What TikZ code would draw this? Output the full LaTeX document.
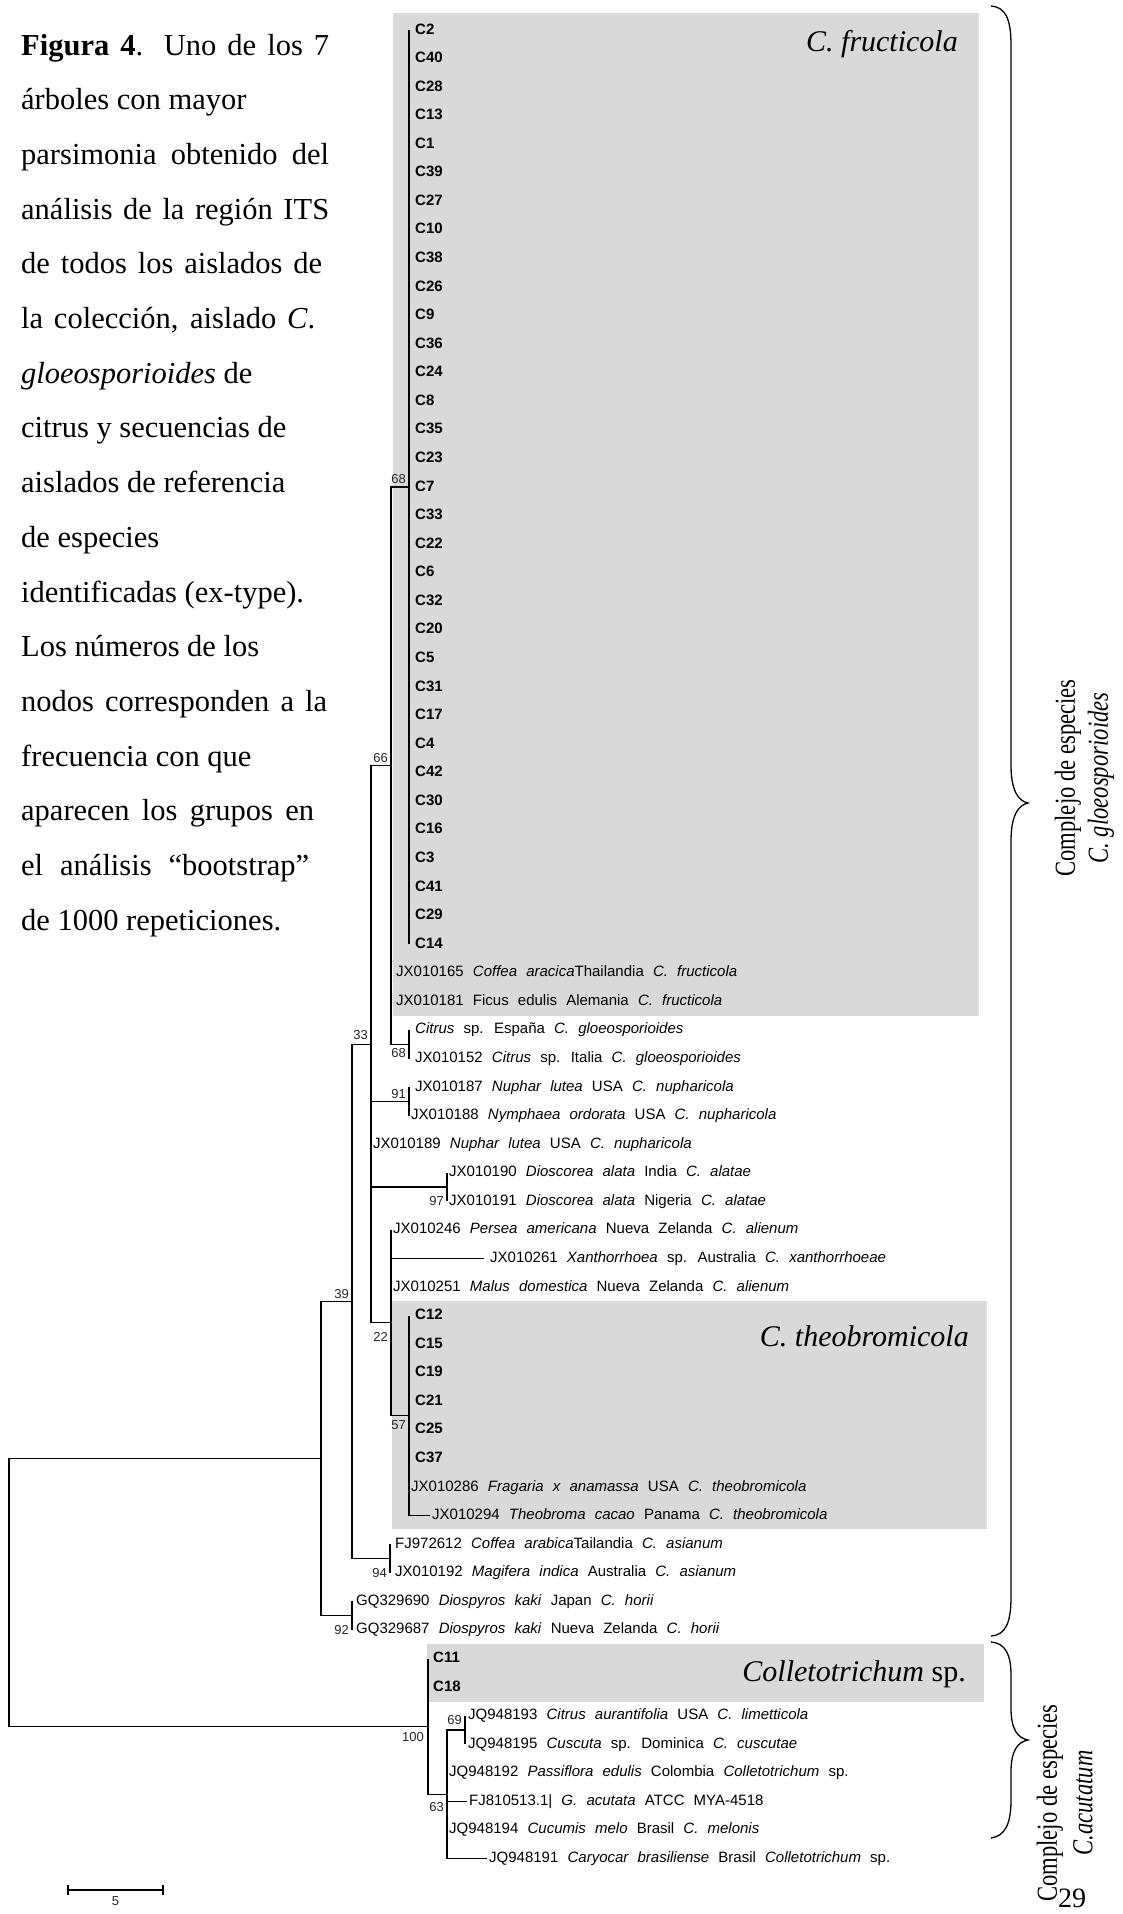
\documentclass[tikz,border=0pt]{standalone}
\usepackage{fontspec}
\setmainfont{Liberation Serif}
\newfontfamily\treefont{Liberation Sans}[WordSpace=2.2]
\definecolor{boxgray}{RGB}{217,217,217}
\begin{document}
\begin{tikzpicture}[x=1pt,y=-1pt,
  declare function={row(\k)=30+28.57*(\k-1);capy(\k)=55+54.7*(\k-1);},
  branch/.style={line width=1.3pt},
  cbranch/.style={line width=2.2pt},
  taxon/.style={anchor=west, inner sep=0pt, text height=11pt, text depth=3pt, font=\treefont\fontsize{15}{15}\selectfont},
  ctaxon/.style={taxon, font=\treefont\bfseries\fontsize{15}{15}\selectfont},
  boot/.style={inner sep=0pt, font=\treefont\fontsize{13}{13}\selectfont, text=black!85},
  cladename/.style={anchor=east, inner sep=0pt, font=\fontsize{30}{30}\selectfont},
  capline/.style={anchor=base west, inner sep=0pt, font=\fontsize{30.5}{30.5}\selectfont},
  rotlabel/.style={rotate=90, inner sep=0pt, font=\fontsize{29}{29}\selectfont},
  bracepath/.style={line width=1.3pt}]
\useasboundingbox (0,0) rectangle (1123,1914);
\fill[white] (0,0) rectangle (1123,1914);

% clade boxes
\fill[boxgray] (393,13) rectangle (979,1016);
\fill[boxgray] (392,1301) rectangle (987,1529);
\fill[boxgray] (427,1644) rectangle (984,1702);

\node[cladename] (nfru) at (958,44) {\itshape C. fructicola};
\node[cladename] (ntheo) at (969,1336) {\itshape C. theobromicola};
\node[cladename] (ncol) at (966,1674) {\textit{Colletotrichum} sp.};

% caption
\node[capline] (cap1) at (21,{capy(1)}) {\makebox[308pt][s]{\textbf{Figura 4}. Uno de los 7}};
\node[capline] (cap2) at (21,{capy(2)}) {árboles con mayor};
\node[capline] (cap3) at (21,{capy(3)}) {\makebox[308pt][s]{parsimonia obtenido del}};
\node[capline] (cap4) at (21,{capy(4)}) {\makebox[308pt][s]{análisis de la región ITS}};
\node[capline] (cap5) at (21,{capy(5)}) {\makebox[301pt][s]{de todos los aislados de}};
\node[capline] (cap6) at (21,{capy(6)}) {\makebox[294pt][s]{la colección, aislado \textit{C}.}};
\node[capline] (cap7) at (21,{capy(7)}) {\textit{gloeosporioides} de};
\node[capline] (cap8) at (21,{capy(8)}) {citrus y secuencias de};
\node[capline] (cap9) at (21,{capy(9)}) {aislados de referencia};
\node[capline] (cap10) at (21,{capy(10)}) {de especies};
\node[capline] (cap11) at (21,{capy(11)}) {identificadas (ex-type).};
\node[capline] (cap12) at (21,{capy(12)}) {Los números de los};
\node[capline] (cap13) at (21,{capy(13)}) {\makebox[306pt][s]{nodos corresponden a la}};
\node[capline] (cap14) at (21,{capy(14)}) {frecuencia con que};
\node[capline] (cap15) at (21,{capy(15)}) {\makebox[293pt][s]{aparecen los grupos en}};
\node[capline] (cap16) at (21,{capy(16)}) {\makebox[288pt][s]{el análisis “bootstrap”}};
\node[capline] (cap17) at (21,{capy(17)}) {de 1000 repeticiones.};

% internal nodes
\coordinate (nA) at (321,{row(51)});
\coordinate (n100) at (428,{row(60.375)});
\coordinate (R) at (9,{row(55.6875)});
\coordinate (n39) at (352,{row(45.5)});
\coordinate (n33) at (371,{row(36.5)});
\coordinate (n66) at (391,{row(26.75)});
\coordinate (n68a) at (409,{row(17)});
\coordinate (n68b) at (409,{row(36.5)});
\coordinate (n91) at (409,{row(38.5)});
\coordinate (n97) at (447,{row(41.5)});
\coordinate (n22) at (391,{row(46.25)});
\coordinate (n57) at (409,{row(49.5)});
\coordinate (n94) at (390,{row(54.5)});
\coordinate (n92) at (352,{row(56.5)});
\coordinate (n63) at (447,{row(62.75)});
\coordinate (n69) at (465,{row(60.5)});

% C. fructicola isolates
\foreach \lab [count=\c] in {C2,C40,C28,C13,C1,C39,C27,C10,C38,C26,C9,C36,C24,C8,C35,C23,C7,C33,C22,C6,C32,C20,C5,C31,C17,C4,C42,C30,C16,C3,C41,C29,C14} {
  \coordinate (t\c) at (409,{row(\c)});
  \node[ctaxon] (l\c) at (415,{row(\c)}) {\lab};
  \draw[cbranch] (n68a) |- (t\c);
}
% C. theobromicola isolates
\foreach \lab [count=\c from 46] in {C12,C15,C19,C21,C25,C37} {
  \coordinate (t\c) at (409,{row(\c)});
  \node[ctaxon] (l\c) at (415,{row(\c)}) {\lab};
  \draw[cbranch] (n57) |- (t\c);
}
% Colletotrichum sp. isolates
\foreach \lab [count=\c from 58] in {C11,C18} {
  \coordinate (t\c) at (428,{row(\c)});
  \node[ctaxon] (l\c) at (433,{row(\c)}) {\lab};
  \draw[cbranch] (n100) |- (t\c);
}

% reference sequences
\newcommand\leaf[4]{%
  \coordinate (t#1) at (#2,{row(#1)});
  \node[taxon] (l#1) at (#3,{row(#1)}) {#4};}
\leaf{34}{391}{396}{JX010165 \textit{Coffea aracica}Thailandia \textit{C. fructicola}}
\leaf{35}{391}{396}{JX010181 Ficus edulis Alemania \textit{C. fructicola}}
\leaf{36}{409}{415}{\textit{Citrus} sp. España \textit{C. gloeosporioides}}
\leaf{37}{409}{415}{JX010152 \textit{Citrus} sp. Italia \textit{C. gloeosporioides}}
\leaf{38}{409}{415}{JX010187 \textit{Nuphar lutea} USA \textit{C. nupharicola}}
\leaf{39}{409}{411}{JX010188 \textit{Nymphaea ordorata} USA \textit{C. nupharicola}}
\leaf{40}{371}{373}{JX010189 \textit{Nuphar lutea} USA \textit{C. nupharicola}}
\leaf{41}{447}{449}{JX010190 \textit{Dioscorea alata} India \textit{C. alatae}}
\leaf{42}{447}{449}{JX010191 \textit{Dioscorea alata} Nigeria \textit{C. alatae}}
\leaf{43}{391}{393}{JX010246 \textit{Persea americana} Nueva Zelanda \textit{C. alienum}}
\leaf{44}{484}{490}{JX010261 \textit{Xanthorrhoea} sp. Australia \textit{C. xanthorrhoeae}}
\leaf{45}{391}{393}{JX010251 \textit{Malus domestica} Nueva Zelanda \textit{C. alienum}}
\leaf{52}{409}{411}{JX010286 \textit{Fragaria x anamassa} USA \textit{C. theobromicola}}
\leaf{53}{430}{432}{JX010294 \textit{Theobroma cacao} Panama \textit{C. theobromicola}}
\leaf{54}{390}{395}{FJ972612 \textit{Coffea arabica}Tailandia \textit{C. asianum}}
\leaf{55}{390}{395}{JX010192 \textit{Magifera indica} Australia \textit{C. asianum}}
\leaf{56}{352}{356}{GQ329690 \textit{Diospyros kaki} Japan \textit{C. horii}}
\leaf{57}{352}{356}{GQ329687 \textit{Diospyros kaki} Nueva Zelanda \textit{C. horii}}
\leaf{60}{465}{468}{JQ948193 \textit{Citrus aurantifolia} USA \textit{C. limetticola}}
\leaf{61}{465}{468}{JQ948195 \textit{Cuscuta} sp. Dominica \textit{C. cuscutae}}
\leaf{62}{447}{449}{JQ948192 \textit{Passiflora edulis} Colombia \textit{Colletotrichum} sp.}
\leaf{63}{467}{469}{FJ810513.1| \textit{G. acutata} ATCC MYA-4518}
\leaf{64}{447}{449}{JQ948194 \textit{Cucumis melo} Brasil \textit{C. melonis}}
\leaf{65}{487}{489}{JQ948191 \textit{Caryocar brasiliense} Brasil \textit{Colletotrichum} sp.}

% branches
\draw[branch] (R) |- (nA) (R) |- (n100);
\draw[branch] (nA) |- (n39) (nA) |- (n92);
\draw[branch] (n39) |- (n33) (n39) |- (n94);
\draw[branch] (n33) |- (n66) (n33) |- (n91) (n33) |- (t40) (n33) |- (n97) (n33) |- (n22);
\draw[branch] (n66) |- (n68a) (n66) |- (t34) (n66) |- (t35) (n66) |- (n68b);
\draw[branch] (n68b) |- (t36) (n68b) |- (t37);
\draw[branch] (n91) |- (t38) (n91) |- (t39);
\draw[branch] (n97) |- (t41) (n97) |- (t42);
\draw[branch] (n22) |- (t43) (n22) |- (t44) (n22) |- (t45) (n22) |- (n57);
\draw[cbranch] (n57) |- (t52);
\draw[branch] (n57) |- (t53);
\draw[branch] (n94) |- (t54) (n94) |- (t55);
\draw[branch] (n92) |- (t56) (n92) |- (t57);
\draw[branch] (n100) |- (n63);
\draw[branch] (n63) |- (n69) (n63) |- (t62) (n63) |- (t63) (n63) |- (t64) (n63) |- (t65);
\draw[branch] (n69) |- (t60) (n69) |- (t61);

% bootstrap values
\node[boot, anchor=south east] (b68a) at (406,{row(17)-3}) {68};
\node[boot, anchor=south east] (b66) at (388,{row(26.75)-3}) {66};
\node[boot, anchor=north east] (b68b) at (406,{row(36.5)+4}) {68};
\node[boot, anchor=south east] (b33) at (368,{row(36.5)-4}) {33};
\node[boot, anchor=south east] (b91) at (406,{row(38.5)-3}) {91};
\node[boot, anchor=east] (b97) at (444,{row(42)}) {97};
\node[boot, anchor=north east] (b22) at (388,{row(46.25)+9}) {22};
\node[boot, anchor=south east] (b39) at (349,{row(45.5)-3}) {39};
\node[boot, anchor=north east] (b57) at (406,{row(49.5)+5}) {57};
\node[boot, anchor=east] (b94) at (387,{row(55)}) {94};
\node[boot, anchor=east] (b92) at (349,{row(57)}) {92};
\node[boot, anchor=north east] (b100) at (424,{row(60.375)+6}) {100};
\node[boot, anchor=north east] (b63) at (444,{row(62.75)+8}) {63};
\node[boot, anchor=south east] (b69) at (462,{row(60.5)-5}) {69};

% scale bar
\coordinate (sb1) at (68,1890);
\coordinate (sb2) at (163,1890);
\draw[branch] (sb1) -- (sb2);
\draw[branch] ([yshift=5pt]sb1) -- ([yshift=-5pt]sb1);
\draw[branch] ([yshift=5pt]sb2) -- ([yshift=-5pt]sb2);
\node[boot, anchor=north] (sbl) at (115.5,1896) {5};

% braces
\draw[bracepath] (991,6) .. controls (1005,7) and (1011,18) .. (1011,45) -- (1011,765)
  .. controls (1011,790) and (1018,801) .. (1028,803)
  .. controls (1018,805) and (1011,816) .. (1011,841) -- (1011,1597)
  .. controls (1011,1624) and (1005,1635) .. (991,1636);
\draw[bracepath] (991,1642) .. controls (1005,1643) and (1011,1654) .. (1011,1675) -- (1011,1708)
  .. controls (1011,1730) and (1018,1738) .. (1028,1740)
  .. controls (1018,1742) and (1011,1750) .. (1011,1772) -- (1011,1800)
  .. controls (1011,1824) and (1005,1836) .. (991,1838);

% complex labels
\node[rotlabel] (cg1) at (1068,778) {\scalebox{0.78}[1]{Complejo de especies}};
\node[rotlabel] (cg2) at (1101,778) {\scalebox{0.78}[1]{\itshape C. gloeosporioides}};
\node[rotlabel] (ca1) at (1050,1803) {\scalebox{0.78}[1]{Complejo de especies}};
\node[rotlabel] (ca2) at (1083,1803) {\scalebox{0.78}[1]{\itshape C.acutatum}};

\node[inner sep=0pt, font=\fontsize{28}{28}\selectfont] (pg) at (1072,1898) {29};
\end{tikzpicture}
\end{document}
